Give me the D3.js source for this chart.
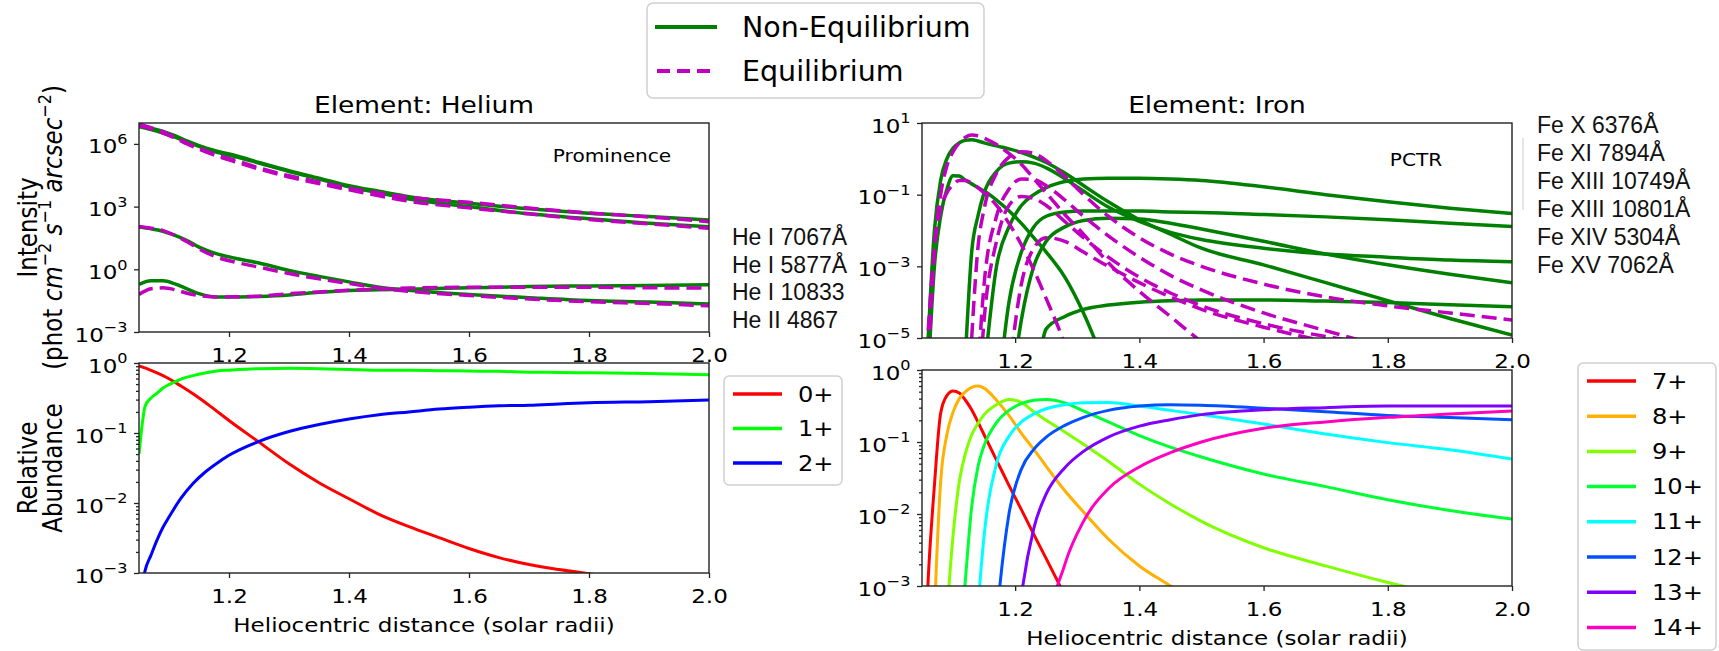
<!DOCTYPE html>
<html>
<head>
<meta charset="utf-8">
<script src="https://cdn.jsdelivr.net/npm/d3@7"></script>
<style>
  body { margin: 0; background: #fff; }
  text { font-family: "DejaVu Sans", sans-serif; white-space: pre; }
  text.slide { font-family: "Liberation Sans", Arial, sans-serif; }
</style>
</head>
<body>
<svg id="fig" width="1719" height="651"></svg>
<script>
// ---- tick labels / names ----
X_TICKS = [1.2, 1.4, 1.6, 1.8, 2.0];
Y_TICKS_HE_INT = [1e-3, 1, 1e3, 1e6];
Y_TICKS_FE_INT = [1e-5, 1e-3, 1e-1, 10];
Y_TICKS_ABUND = [1e-3, 1e-2, 1e-1, 1];
HE_LINES = ["He I 7067Å", "He I 5877Å", "He I 10833", "He II 4867"];
FE_LINES = ["Fe X 6376Å", "Fe XI 7894Å", "Fe XIII 10749Å", "Fe XIII 10801Å", "Fe XIV 5304Å", "Fe XV 7062Å"];
HE_IONS = ["0+", "1+", "2+"];
FE_IONS = ["7+", "8+", "9+", "10+", "11+", "12+", "13+", "14+"];

// ---- helium line intensity (top left) ----
X_HE = [1.05, 1.07, 1.09, 1.11, 1.13, 1.15, 1.18, 1.21, 1.25, 1.3, 1.35, 1.4, 1.45, 1.5, 1.6, 1.7, 1.8, 1.9, 2.0];
HE1_NE = [7.9e6, 5.6e6, 4.0e6, 2.5e6, 1.4e6, 8.3e5, 4.5e5, 2.8e5, 1.3e5, 5.2e4, 2.3e4, 1.0e4, 5.4e3, 3.0e3, 1.45e3, 780, 480, 340, 230];
HE1_EQ = [8.9e6, 6.0e6, 3.8e6, 2.1e6, 1.1e6, 6.3e5, 3.0e5, 1.66e5, 7.1e4, 3.0e4, 1.5e4, 7.6e3, 4.5e3, 2.8e3, 1.6e3, 850, 500, 320, 190];
HE2_NE = [6.6e6, 4.8e6, 3.3e6, 2.1e6, 1.26e6, 7.6e5, 4.0e5, 2.5e5, 1.2e5, 4.8e4, 2.1e4, 8.9e3, 4.5e3, 2.3e3, 1.0e3, 450, 260, 160, 110];
HE2_EQ = [7.6e6, 5.2e6, 3.3e6, 1.9e6, 1.0e6, 5.6e5, 2.6e5, 1.4e5, 6.3e4, 2.6e4, 1.26e4, 6.3e3, 3.3e3, 1.8e3, 870, 450, 240, 150, 93];
HE3_NE = [105, 87, 66, 42, 24, 11.5, 5.5, 3.4, 2.0, 0.89, 0.46, 0.25, 0.14, 0.1, 0.063, 0.044, 0.032, 0.027, 0.022];
HE3_EQ = [112, 93, 71, 42, 21, 9.5, 3.8, 2.2, 1.26, 0.63, 0.35, 0.21, 0.126, 0.089, 0.056, 0.038, 0.028, 0.023, 0.018];
HE4_NE = [0.19, 0.28, 0.28, 0.2, 0.117, 0.068, 0.047, 0.047, 0.05, 0.059, 0.079, 0.098, 0.105, 0.112, 0.13, 0.15, 0.16, 0.17, 0.18];
HE4_EQ = [0.063, 0.117, 0.13, 0.105, 0.072, 0.056, 0.047, 0.048, 0.052, 0.068, 0.083, 0.1, 0.112, 0.126, 0.138, 0.14, 0.138, 0.13, 0.126];

// ---- helium ion fractions (bottom left) ----
X_HEA = [1.05, 1.055, 1.06, 1.07, 1.08, 1.09, 1.1, 1.12, 1.14, 1.16, 1.18, 1.2, 1.25, 1.3, 1.35, 1.4, 1.45, 1.5, 1.55, 1.6, 1.65, 1.7, 1.75, 1.8, 1.9, 2.0];
HE_0 = [0.91, 0.88, 0.85, 0.785, 0.724, 0.66, 0.596, 0.468, 0.363, 0.275, 0.204, 0.151, 0.074, 0.0363, 0.0195, 0.0115, 6.9e-3, 4.6e-3, 3.2e-3, 2.24e-3, 1.66e-3, 1.32e-3, 1.12e-3, 9.8e-4, 7.6e-4, 5.6e-4];
HE_1 = [0.05, 0.126, 0.24, 0.316, 0.37, 0.44, 0.49, 0.59, 0.66, 0.72, 0.77, 0.79, 0.83, 0.84, 0.83, 0.81, 0.79, 0.785, 0.776, 0.767, 0.76, 0.74, 0.733, 0.724, 0.708, 0.68];
HE_2 = [3.2e-4, 6.3e-4, 1.07e-3, 1.8e-3, 2.95e-3, 4.5e-3, 6.3e-3, 0.0117, 0.019, 0.0275, 0.037, 0.048, 0.076, 0.105, 0.132, 0.158, 0.182, 0.2, 0.22, 0.234, 0.245, 0.25, 0.26, 0.27, 0.28, 0.295];

// ---- iron (right column), null = off the chart ----
X_FE = [1.05, 1.06, 1.07, 1.08, 1.09, 1.10, 1.11, 1.12, 1.13, 1.14, 1.15, 1.17, 1.19, 1.21, 1.23, 1.25, 1.28, 1.31, 1.35, 1.4, 1.45, 1.5, 1.6, 1.7, 1.8, 1.9, 2.0];
// non-equilibrium intensities
FE_NE1 = [null, 1e-6, 1e-3, 0.025, 0.141, 0.339, 0.331, 0.251, 0.2, 0.158, 0.126, 0.0708, 0.0355, 0.0158, 6.3e-3, 2.5e-3, 5e-4, 5e-5, 1e-6, null, null, null, null, null, null, null, null];
FE_NE2 = [null, 1e-5, 1e-2, 0.25, 1.0, 2.0, 2.8, 3.3, 3.4, 3.16, 2.8, 2.3, 1.9, 1.5, 1.12, 0.79, 0.4, 0.18, 0.063, 0.02, 7.9e-3, 3.2e-3, 1.1e-3, 3.5e-4, 1.1e-4, 3.5e-5, 1.2e-5];
FE_NE3 = [null, null, null, null, null, null, null, 3.2e-6, 2.5e-3, 0.025, 0.112, 0.447, 0.76, 0.83, 0.76, 0.56, 0.28, 0.126, 0.045, 0.018, 8.9e-3, 5.6e-3, 3.2e-3, 2.2e-3, 1.8e-3, 1.5e-3, 1.35e-3];
FE_NE4 = [null, null, null, null, null, null, null, null, null, null, 1e-6, 1e-3, 0.0126, 0.05, 0.1, 0.158, 0.234, 0.275, 0.288, 0.288, 0.275, 0.25, 0.166, 0.1, 0.063, 0.042, 0.03];
FE_NE5 = [null, null, null, null, null, null, null, null, null, null, null, 1e-7, 1e-4, 2.5e-3, 0.0126, 0.025, 0.033, 0.035, 0.035, 0.035, 0.033, 0.032, 0.028, 0.024, 0.02, 0.016, 0.013];
FE_NE6 = [null, null, null, null, null, null, null, null, null, null, null, null, 1e-7, 3.2e-5, 1e-3, 5e-3, 0.0126, 0.019, 0.022, 0.021, 0.016, 0.011, 5e-3, 2.2e-3, 1.1e-3, 6e-4, 3.5e-4];
FE_NE7 = [null, null, null, null, null, null, null, null, null, null, null, null, null, null, 1e-7, 1.8e-5, 4e-5, 6.3e-5, 8.3e-5, 1e-4, 1.1e-4, 1.15e-4, 1.15e-4, 1.07e-4, 9.8e-5, 8.5e-5, 7.4e-5];
// equilibrium intensities
FE_EQ1 = [null, 1.6e-5, 3.2e-3, 0.04, 0.112, 0.19, 0.25, 0.25, 0.21, 0.158, 0.112, 0.05, 0.0158, 4e-3, 7.9e-4, 1.26e-4, 6.3e-6, 1e-7, null, null, null, null, null, null, null, null, null];
FE_EQ2 = [null, 1e-6, 3.2e-3, 0.1, 0.63, 1.58, 2.8, 4.0, 4.6, 4.4, 3.8, 2.5, 1.41, 0.71, 0.28, 0.112, 0.028, 7.9e-3, 1.26e-3, 2e-4, 4e-5, 7.9e-6, 1e-6, 1e-7, null, null, null];
FE_EQ3 = [null, null, null, null, null, null, null, null, 1e-5, 3.2e-3, 0.04, 0.4, 1.12, 1.58, 1.41, 0.89, 0.32, 0.1, 0.025, 6.3e-3, 2.2e-3, 1e-3, 3.2e-4, 1.4e-4, 7.9e-5, 5e-5, 3.2e-5];
FE_EQ4 = [null, null, null, null, null, null, null, null, null, 1e-6, 3.2e-4, 0.025, 0.141, 0.275, 0.263, 0.178, 0.071, 0.025, 7.1e-3, 1.8e-3, 5.6e-4, 2.2e-4, 5e-5, 1.6e-5, 5e-6, 1e-6, 1e-7];
FE_EQ5 = [null, null, null, null, null, null, null, null, null, null, null, null, 1e-6, 3.2e-4, 3.2e-3, 6.3e-3, 5e-3, 2.5e-3, 1e-3, 3.5e-4, 1.4e-4, 6.3e-5, 2e-5, 7.9e-6, 3.2e-6, 1e-6, 3.2e-7];
FE_EQ6 = [null, null, null, null, null, null, null, null, null, 1e-7, 3.2e-5, 5e-3, 0.05, 0.089, 0.079, 0.05, 0.0178, 6.3e-3, 1.8e-3, 5e-4, 1.8e-4, 7.9e-5, 2.5e-5, 1.1e-5, 6.3e-6, 4e-6, 2.5e-6];
// iron ion fractions (bottom right)
ION_7 = [1e-5, 1.26e-3, 0.025, 0.25, 0.44, 0.51, 0.48, 0.38, 0.28, 0.19, 0.126, 0.056, 0.025, 0.0115, 5.2e-3, 2.4e-3, 7.4e-4, 2.2e-4, 3.2e-5, null, null, null, null, null, null, null, null];
ION_8 = [null, 1e-6, 4e-4, 0.028, 0.126, 0.26, 0.4, 0.5, 0.575, 0.6, 0.56, 0.38, 0.234, 0.132, 0.079, 0.046, 0.021, 0.0107, 4.5e-3, 1.9e-3, 1e-3, 5e-4, 1.26e-4, 3.2e-5, 1e-5, null, null];
ION_9 = [null, null, null, null, 4e-4, 5e-3, 0.028, 0.07, 0.126, 0.18, 0.24, 0.33, 0.39, 0.355, 0.263, 0.2, 0.138, 0.093, 0.054, 0.026, 0.0138, 7.9e-3, 3.4e-3, 1.9e-3, 1.12e-3, 7.1e-4, 4.5e-4];
ION_10 = [null, null, null, null, null, null, 1e-4, 1.26e-3, 0.0126, 0.045, 0.089, 0.186, 0.275, 0.34, 0.38, 0.39, 0.35, 0.27, 0.19, 0.123, 0.085, 0.062, 0.036, 0.024, 0.0158, 0.0112, 8.5e-3];
ION_11 = [null, null, null, null, null, null, null, null, null, 5e-4, 5e-3, 0.05, 0.12, 0.19, 0.245, 0.29, 0.33, 0.35, 0.355, 0.316, 0.275, 0.24, 0.178, 0.129, 0.098, 0.078, 0.058];
ION_12 = [null, null, null, null, null, null, null, null, null, null, 1e-6, 3.2e-4, 0.01, 0.042, 0.079, 0.117, 0.17, 0.22, 0.275, 0.316, 0.33, 0.324, 0.295, 0.263, 0.234, 0.219, 0.204];
ION_13 = [null, null, null, null, null, null, null, null, null, null, null, null, 1e-5, 7.1e-4, 6.3e-3, 0.019, 0.044, 0.074, 0.117, 0.166, 0.204, 0.24, 0.28, 0.3, 0.316, 0.316, 0.316];
ION_14 = [null, null, null, null, null, null, null, null, null, null, null, null, null, null, 1e-6, 1.6e-4, 2e-3, 7.9e-3, 0.0224, 0.045, 0.071, 0.1, 0.155, 0.19, 0.22, 0.245, 0.27];

NE_GREEN = "#008000";
EQ_MAGENTA = "#bf00bf";
HE_ION_COLORS = ["#ff0000", "#00ff00", "#0000ff"];
FE_ION_COLORS = ["#ff0000", "#ffb000", "#80ff00", "#00ff33", "#00ffff", "#0050ff", "#7f00ff", "#ff00c0"];

// the matplotlib panels look a bit stretched sideways, so their text is too
var SX = 1.15;
var svg = d3.select("#fig");
svg.append("rect").attr("width", 1719).attr("height", 651).attr("fill", "#fff");

function stext(x, y, str, size, anchor, rotate) {
    return svg.append("text")
        .attr("transform", "translate(" + x + "," + y + ") scale(" + SX + ",1)" + (rotate ? " rotate(-90)" : ""))
        .attr("font-size", size)
        .attr("text-anchor", anchor || "start")
        .attr("fill", "#000")
        .text(str);
}

function styleAxis(g) {
    g.select(".domain").remove();
    g.attr("font-family", null).attr("font-size", 20);
    g.selectAll(".tick line").attr("stroke", "#222").attr("stroke-width", 1.3);
    g.selectAll(".tick text").attr("fill", "#000");
}

function makePanel(p) {
    var x = d3.scaleLinear().domain([1.05, 2.0]).range([p.left, p.right]);
    var y = d3.scaleLog().domain(p.yDomain).range([p.bottom, p.top]);
    var id = "clip-" + p.name;
    svg.append("clipPath").attr("id", id).append("rect")
        .attr("x", p.left).attr("y", p.top)
        .attr("width", p.right - p.left).attr("height", p.bottom - p.top);
    var plot = svg.append("g").attr("clip-path", "url(#" + id + ")");

    // x axis, labels under every panel
    var xa = svg.append("g").attr("transform", "translate(0," + p.bottom + ")")
        .call(d3.axisBottom(x).tickValues(X_TICKS).tickFormat(d3.format(".1f")).tickSize(5).tickPadding(11));
    styleAxis(xa);
    xa.selectAll(".tick text").attr("transform", "scale(" + SX + ",1)");

    // minor log ticks only on the short axes
    if (p.minor) {
        var minors = [];
        p.yTicks.slice(0, -1).forEach(function (d) { for (var k = 2; k < 10; k++) minors.push(d * k); });
        var ym = svg.append("g").attr("transform", "translate(" + p.left + ",0)")
            .call(d3.axisLeft(y).tickValues(minors).tickFormat(function () { return ""; }).tickSize(3));
        styleAxis(ym);
    }

    // y axis, 10^n labels
    var ya = svg.append("g").attr("transform", "translate(" + p.left + ",0)")
        .call(d3.axisLeft(y).tickValues(p.yTicks).tickFormat(function () { return ""; }).tickSize(5).tickPadding(5));
    styleAxis(ya);
    ya.selectAll(".tick text").each(function (d) {
        var t = d3.select(this).text(null).attr("dy", null).attr("transform", "scale(" + SX + ",1)");
        var e = Math.round(Math.log10(d));
        t.append("tspan").attr("dy", "0.45em").text("10");
        t.append("tspan").attr("font-size", 14).attr("dy", -9.3).text(e < 0 ? "\u2212" + (-e) : String(e));
    });

    // frame on top of the lines
    svg.append("rect")
        .attr("x", p.left).attr("y", p.top)
        .attr("width", p.right - p.left).attr("height", p.bottom - p.top)
        .attr("fill", "none").attr("stroke", "#222").attr("stroke-width", 1.4);

    return { x: x, y: y, plot: plot };
}

function drawLine(pn, xs, vals, color, width, dash) {
    var gen = d3.line()
        .defined(function (d) { return d[1] != null; })
        .x(function (d) { return pn.x(d[0]); })
        .y(function (d) { return pn.y(d[1]); })
        .curve(d3.curveMonotoneX);
    pn.plot.append("path")
        .datum(xs.map(function (v, i) { return [v, vals[i]]; }))
        .attr("d", gen)
        .attr("fill", "none")
        .attr("stroke", color)
        .attr("stroke-width", width)
        .attr("stroke-linejoin", "round")
        .attr("stroke-dasharray", dash || null);
}

// ---- panels ----
var heInt = makePanel({ name: "heint", left: 139, right: 709, top: 123, bottom: 332, yDomain: [1e-3, 1e7], yTicks: Y_TICKS_HE_INT, minor: false });
var heAb = makePanel({ name: "heab", left: 139, right: 709, top: 363, bottom: 573, yDomain: [1e-3, 1], yTicks: Y_TICKS_ABUND, minor: true });
var feInt = makePanel({ name: "feint", left: 922, right: 1512, top: 123, bottom: 338, yDomain: [1e-5, 10], yTicks: Y_TICKS_FE_INT, minor: false });
var feAb = makePanel({ name: "feab", left: 922, right: 1512, top: 370, bottom: 586, yDomain: [1e-3, 1], yTicks: Y_TICKS_ABUND, minor: true });

// helium intensities
[HE1_NE, HE2_NE, HE3_NE, HE4_NE].forEach(function (s) { drawLine(heInt, X_HE, s, NE_GREEN, 3.5); });
[HE1_EQ, HE2_EQ, HE3_EQ, HE4_EQ].forEach(function (s) { drawLine(heInt, X_HE, s, EQ_MAGENTA, 3.5, "15,7"); });

// helium ion fractions
[HE_0, HE_1, HE_2].forEach(function (s, i) { drawLine(heAb, X_HEA, s, HE_ION_COLORS[i], 3); });

// iron intensities
[FE_NE1, FE_NE2, FE_NE3, FE_NE4, FE_NE5, FE_NE6, FE_NE7].forEach(function (s) { drawLine(feInt, X_FE, s, NE_GREEN, 3.5); });
[FE_EQ1, FE_EQ2, FE_EQ3, FE_EQ4, FE_EQ5, FE_EQ6].forEach(function (s) { drawLine(feInt, X_FE, s, EQ_MAGENTA, 3.5, "15,7"); });

// iron ion fractions
[ION_7, ION_8, ION_9, ION_10, ION_11, ION_12, ION_13, ION_14].forEach(function (s, i) { drawLine(feAb, X_FE, s, FE_ION_COLORS[i], 3); });

// ---- titles and axis labels ----
stext(424, 112.5, "Element: Helium", 23, "middle");
stext(1217, 112.5, "Element: Iron", 23, "middle");
stext(424, 631.5, "Heliocentric distance (solar radii)", 20, "middle");
stext(1217, 644.5, "Heliocentric distance (solar radii)", 20, "middle");
stext(612, 162, "Prominence", 17.5, "middle");
stext(1416, 166, "PCTR", 17.5, "middle");

stext(37, 227.5, "Intensity", 23, "middle", true);
var yl = stext(62, 227.5, "", 23, "middle", true);
yl.append("tspan").text("(phot ");
yl.append("tspan").attr("font-style", "italic").text("cm");
yl.append("tspan").attr("font-size", 16).attr("dy", -10).text("\u22122");
yl.append("tspan").attr("dy", 10).text(" ");
yl.append("tspan").attr("font-style", "italic").text("s");
yl.append("tspan").attr("font-size", 16).attr("dy", -10).text("\u22121");
yl.append("tspan").attr("dy", 10).text(" ");
yl.append("tspan").attr("font-style", "italic").text("arcsec");
yl.append("tspan").attr("font-size", 16).attr("dy", -10).text("\u22122");
yl.append("tspan").attr("dy", 10).text(")");

stext(37, 468, "Relative", 23, "middle", true);
stext(62, 468, "Abundance", 23, "middle", true);

// ---- line name lists (slide text, not stretched) ----
HE_LINES.forEach(function (s, i) {
    svg.append("text").attr("class", "slide").attr("x", 732).attr("y", 245 + i * 27.7)
        .attr("font-size", 23).attr("fill", "#111").text(s);
});
FE_LINES.forEach(function (s, i) {
    svg.append("text").attr("class", "slide").attr("x", 1537).attr("y", 133 + i * 28)
        .attr("font-size", 23).attr("fill", "#111").text(s);
});
svg.append("line").attr("x1", 1523).attr("x2", 1523).attr("y1", 138).attr("y2", 210)
    .attr("stroke", "#ddd").attr("stroke-width", 1.5);

// ---- top legend ----
svg.append("rect").attr("x", 647).attr("y", 3).attr("width", 337).attr("height", 95).attr("rx", 6)
    .attr("fill", "#fff").attr("stroke", "#d0d0d0").attr("stroke-width", 1.5);
svg.append("line").attr("x1", 655).attr("x2", 717).attr("y1", 27).attr("y2", 27)
    .attr("stroke", NE_GREEN).attr("stroke-width", 4);
svg.append("line").attr("x1", 657).attr("x2", 717).attr("y1", 71).attr("y2", 71)
    .attr("stroke", EQ_MAGENTA).attr("stroke-width", 4).attr("stroke-dasharray", "13,7");
svg.append("text").attr("x", 742).attr("y", 37).attr("font-size", 28.5).text("Non-Equilibrium");
svg.append("text").attr("x", 742).attr("y", 81).attr("font-size", 28.5).text("Equilibrium");

// ---- ion legends ----
function ionLegend(x0, y0, w, h, names, colors, gap) {
    svg.append("rect").attr("x", x0).attr("y", y0).attr("width", w).attr("height", h).attr("rx", 5)
        .attr("fill", "#fff").attr("stroke", "#d0d0d0").attr("stroke-width", 1.5);
    names.forEach(function (n, i) {
        var yy = y0 + 18 + i * gap;
        svg.append("line").attr("x1", x0 + 9).attr("x2", x0 + 58).attr("y1", yy).attr("y2", yy)
            .attr("stroke", colors[i]).attr("stroke-width", 3.5);
        stext(x0 + 74, yy + 7.5, n, 21, "start");
    });
}
ionLegend(724, 376, 118, 109, HE_IONS, HE_ION_COLORS, 34.5);
ionLegend(1578, 363, 138, 287, FE_IONS, FE_ION_COLORS, 35.2);
</script>
</body>
</html>
